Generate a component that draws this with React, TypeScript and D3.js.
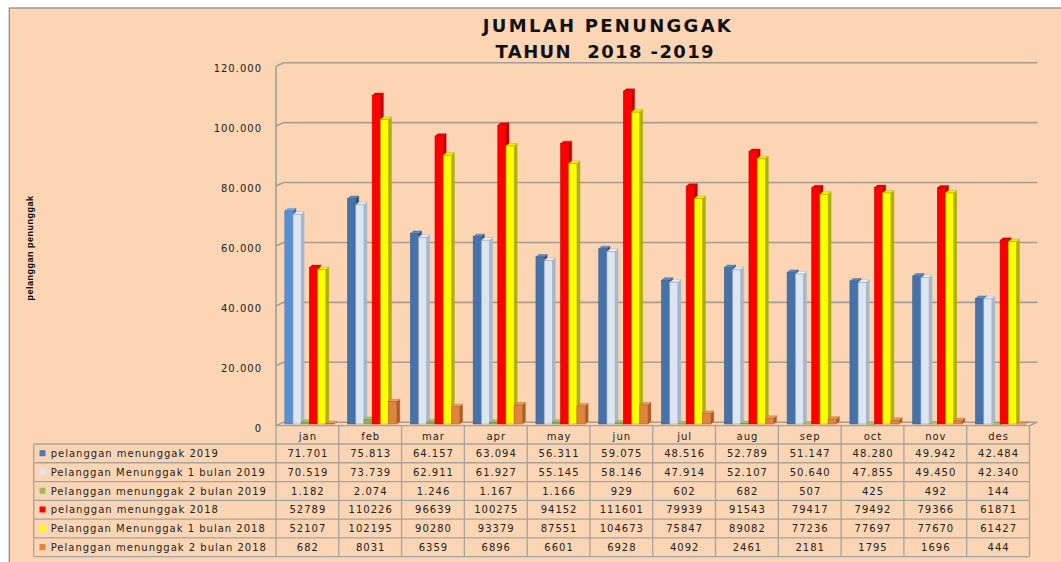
import React from "react";
import * as d3 from "d3";

const months = ["jan", "feb", "mar", "apr", "may", "jun", "jul", "aug", "sep", "oct", "nov", "des"];
const seriesNames = [
  "pelanggan menunggak 2019",
  "Pelanggan Menunggak 1 bulan 2019",
  "Pelanggan menunggak 2 bulan 2019",
  "pelanggan menunggak 2018",
  "Pelanggan Menunggak 1 bulan 2018",
  "Pelanggan menunggak 2 bulan 2018",
];
const menunggak2019 = [71701, 75813, 64157, 63094, 56311, 59075, 48516, 52789, 51147, 48280, 49942, 42484];
const menunggak1Bulan2019 = [70519, 73739, 62911, 61927, 55145, 58146, 47914, 52107, 50640, 47855, 49450, 42340];
const menunggak2Bulan2019 = [1182, 2074, 1246, 1167, 1166, 929, 602, 682, 507, 425, 492, 144];
const menunggak2018 = [52789, 110226, 96639, 100275, 94152, 111601, 79939, 91543, 79417, 79492, 79366, 61871];
const menunggak1Bulan2018 = [52107, 102195, 90280, 93379, 87551, 104673, 75847, 89082, 77236, 77697, 77670, 61427];
const menunggak2Bulan2018 = [682, 8031, 6359, 6896, 6601, 6928, 4092, 2461, 2181, 1795, 1696, 444];
const yTicks = [0, 20000, 40000, 60000, 80000, 100000, 120000];
const titleLines = ["JUMLAH PENUNGGAK", "TAHUN  2018 -2019"];
const yTitle = "pelanggan penunggak";

const seriesValues = [
  menunggak2019,
  menunggak1Bulan2019,
  menunggak2Bulan2019,
  menunggak2018,
  menunggak1Bulan2018,
  menunggak2Bulan2018,
];
const dottedFormat = [true, true, true, false, false, false];

const styles = [
  { front: "#4672AA", side: "#2F5181", top: "#5F8AC0", stroke: "#3A5F8F", key: "#4A7AB8" },
  { front: "#DCE6F2", side: "#A9B8CB", top: "#EEF3F9", stroke: "#98A6B8", key: "#DCE6F2" },
  { front: "#8FB04E", side: "#6A8A36", top: "#A9C76A", stroke: "#76963C", key: "#9BBB59" },
  { front: "#FF0000", side: "#B80000", top: "#E20000", stroke: "#D40000", key: "#FF0000" },
  { front: "#FFFF00", side: "#B0B000", top: "#F2F200", stroke: "#A8A800", key: "#FFFF00" },
  { front: "#E0853F", side: "#A85E25", top: "#EB9D60", stroke: "#B86A2E", key: "#E0843F" },
];
const janBlue = { front: "#5B8FD4", side: "#3E6BA8", top: "#7AA6DF", stroke: "#4A7DC0" };

const W = 1061;
const H = 562;
const X0 = 276;
const X1 = 1029.5;
const Y_FLOOR = 425.7;
const Y_TOP = 66.2;
const DX = 7.5;
const DY = 3.5;
const BAR_BASE = 424;
const BDX = 3;
const BDY = 2.5;
const ROW_TOP = 444;
const ROW_H = 18.77;
const LEG_X = 33.7;
const BG = "#FCD5B4";
const GRID = "#A29D98";
const TABLE_LINE = "#A6A29E";

const locale = d3.formatLocale({ decimal: ",", thousands: ".", grouping: [3], currency: ["", ""] });
const fmtDot = locale.format(",");
const fmtPlain = d3.format("d");

export default function App() {
  const y = d3.scaleLinear().domain([0, 120000]).range([Y_FLOOR, Y_TOP]);
  const x = d3.scaleBand<string>().domain(months).range([X0, X1]).paddingInner(0).paddingOuter(0);
  const cw = x.bandwidth();
  const inner = d3
    .scaleBand<number>()
    .domain(d3.range(seriesValues.length))
    .range([8.8, 8.8 + 6 * 8.2])
    .padding(0);
  const bw = inner.bandwidth();

  const textStyle: React.CSSProperties = {
    fontFamily: "'DejaVu Sans', Verdana, sans-serif",
    fontSize: 10,
    letterSpacing: 1,
  };

  const bars: React.ReactNode[] = [];
  months.forEach((m, mi) => {
    seriesValues.forEach((vals, si) => {
      const v = vals[mi];
      const st = si === 0 && mi === 0 ? janBlue : styles[si];
      const bx = (x(m) as number) + (inner(si) as number);
      const by = y(v);
      const base = BAR_BASE;
      const side = `M${bx + bw},${by} L${bx + bw + BDX},${by - BDY} L${bx + bw + BDX},${base - BDY} L${bx + bw},${base} Z`;
      const top = `M${bx},${by} L${bx + BDX},${by - BDY} L${bx + bw + BDX},${by - BDY} L${bx + bw},${by} Z`;
      bars.push(
        <g key={`b-${mi}-${si}`}>
          <path d={side} fill={st.side} stroke={st.side} strokeWidth={0.4} />
          <path d={top} fill={st.top} stroke={st.stroke} strokeWidth={0.4} />
          <rect x={bx} y={by} width={bw} height={Math.max(0, base - by)} fill={st.front} stroke={st.stroke} strokeWidth={0.6} />
        </g>
      );
    });
  });

  const rowLines = d3.range(seriesValues.length + 1).map((i) => ROW_TOP + i * ROW_H);
  const tableBottom = rowLines[rowLines.length - 1];

  return (
    <div style={{ position: "fixed", left: 0, top: 0 }}>
      <svg width={W} height={H} viewBox={`0 0 ${W} ${H}`} style={{ display: "block" }}>
        <rect x={0} y={0} width={W} height={H} fill="#ffffff" />
        <rect x={9.3} y={8} width={W + 10} height={H + 10} fill={BG} stroke="#8E8E8E" strokeWidth={1.3} />

        {/* title */}
        <g fontFamily="'DejaVu Sans', 'Open Sans', sans-serif" fontWeight={700} fontSize={18} fill="#111" textAnchor="middle">
          <text x={606.8} y={31.5} textLength={248} lengthAdjust="spacing">
            {titleLines[0]}
          </text>
          <text x={604.6} y={58.3} textLength={218} lengthAdjust="spacing" style={{ whiteSpace: "pre" }}>
            {titleLines[1]}
          </text>
        </g>

        {/* y axis title */}
        <text
          transform="translate(29.6,248) rotate(-90)"
          textAnchor="middle"
          dominantBaseline="central"
          fontFamily="'Liberation Sans', Arial, sans-serif"
          fontWeight={700}
          fontSize={9}
          letterSpacing={0.5}
          fill="#000"
        >
          {yTitle}
        </text>

        {/* gridlines */}
        {yTicks.map((t) => {
          const fy = y(t);
          return (
            <g key={`g-${t}`}>
              {t > 0 && (
                <path
                  d={`M${X0},${fy} L${X0 + DX},${fy - DY} L${X1 + DX + 0.5},${fy - DY}`}
                  fill="none"
                  stroke={GRID}
                  strokeWidth={1.6}
                />
              )}
              <text
                x={262}
                y={fy + 2.5}
                textAnchor="end"
                dominantBaseline="central"
                style={textStyle}
                fill="#222"
              >
                {fmtDot(t)}
              </text>
            </g>
          );
        })}

        {/* left wall edge and floor */}
        <line x1={X0} y1={Y_FLOOR} x2={X0} y2={y(120000)} stroke={GRID} strokeWidth={1.6} />
        <path
          d={`M${X0},${Y_FLOOR} L${X0 + DX},${Y_FLOOR - DY} L${X1 + DX + 0.5},${Y_FLOOR - DY} L${X1},${Y_FLOOR}`}
          fill="none"
          stroke={GRID}
          strokeWidth={1.4}
        />

        {bars}

        {/* data table */}
        <g stroke={TABLE_LINE} strokeWidth={1.3} fill="none">
          <line x1={X0} y1={Y_FLOOR} x2={X1} y2={Y_FLOOR} />
          {rowLines.map((ry, i) => (
            <line key={`rl-${i}`} x1={LEG_X} y1={ry} x2={X1} y2={ry} />
          ))}
          <line x1={LEG_X} y1={ROW_TOP} x2={LEG_X} y2={tableBottom} />
          {months.map((m) => (
            <line key={`vl-${m}`} x1={x(m) as number} y1={Y_FLOOR} x2={x(m) as number} y2={tableBottom} />
          ))}
          <line x1={X1} y1={Y_FLOOR} x2={X1} y2={tableBottom} />
        </g>

        {months.map((m) => (
          <text
            key={`ml-${m}`}
            x={(x(m) as number) + cw / 2 + 0.5}
            y={439.5}
            textAnchor="middle"
            style={textStyle}
            fill="#222"
          >
            {m}
          </text>
        ))}

        {seriesNames.map((name, si) => {
          const cy = ROW_TOP + si * ROW_H + ROW_H / 2;
          const fmt = dottedFormat[si] ? fmtDot : fmtPlain;
          return (
            <g key={`row-${si}`}>
              <rect x={39.5} y={cy - 3.2} width={6} height={6} fill={styles[si].key} />
              <text x={50.7} y={cy + 3.6} style={textStyle} fill="#222">
                {name}
              </text>
              {months.map((m, mi) => (
                <text
                  key={`v-${si}-${mi}`}
                  x={(x(m) as number) + cw / 2 + 0.5}
                  y={cy + 3.6}
                  textAnchor="middle"
                  style={textStyle}
                  fill="#222"
                >
                  {fmt(seriesValues[si][mi])}
                </text>
              ))}
            </g>
          );
        })}
      </svg>
    </div>
  );
}
